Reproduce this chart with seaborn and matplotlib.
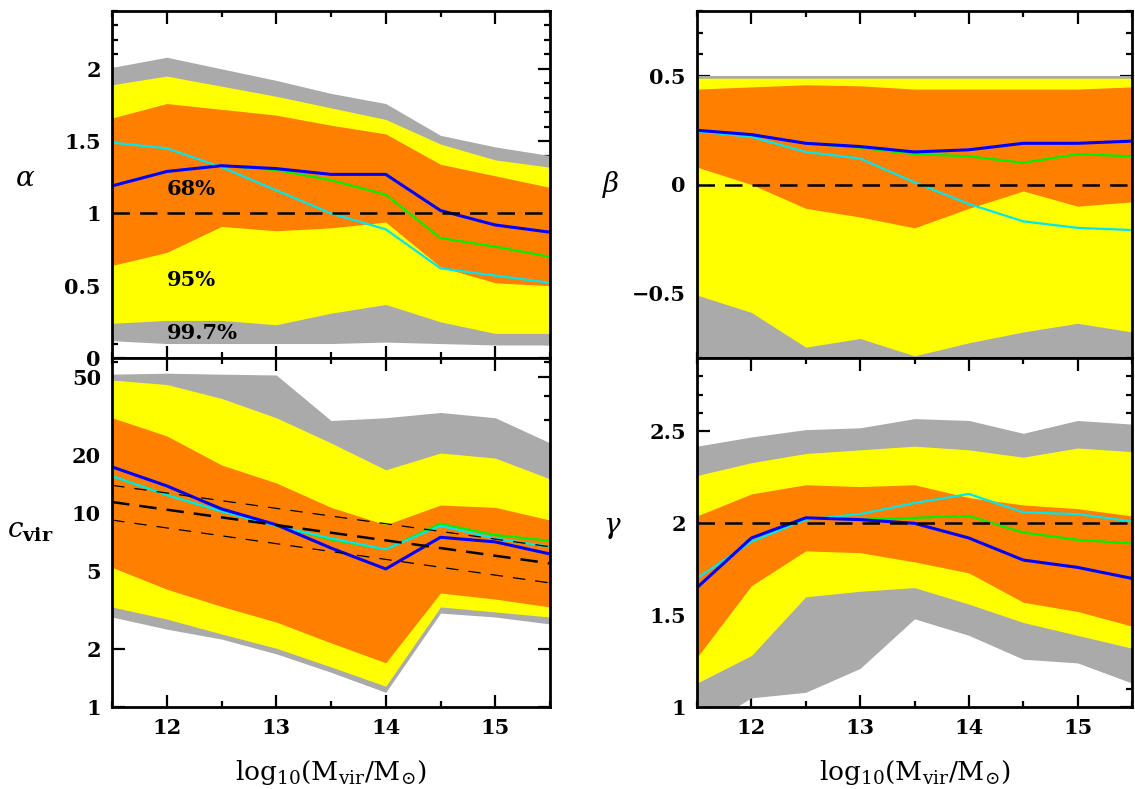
import matplotlib
matplotlib.use('Agg')
import matplotlib.pyplot as plt
import seaborn as sns
from matplotlib.ticker import MultipleLocator, FixedLocator, LogLocator, NullFormatter, FixedFormatter

sns.set_style('ticks')
plt.rcParams['font.family'] = ['DejaVu Serif']
plt.rcParams['mathtext.fontset'] = 'dejavuserif'
plt.rcParams.update({'text.color': 'black', 'axes.labelcolor': 'black', 'xtick.color': 'black',
                     'ytick.color': 'black', 'axes.edgecolor': 'black'})

# halo mass bins
logm = [11.5, 12, 12.5, 13, 13.5, 14, 14.5, 15, 15.5]

# alpha: 99.7% / 95% / 68% bands (lo, hi) and three median curves
alpha_lo3 = [0.12, 0.10, 0.10, 0.10, 0.10, 0.11, 0.10, 0.09, 0.09]
alpha_hi3 = [2.01, 2.08, 2.00, 1.92, 1.83, 1.76, 1.54, 1.46, 1.40]
alpha_lo2 = [0.24, 0.26, 0.26, 0.23, 0.31, 0.37, 0.25, 0.17, 0.17]
alpha_hi2 = [1.89, 1.95, 1.88, 1.81, 1.73, 1.65, 1.48, 1.37, 1.32]
alpha_lo1 = [0.64, 0.73, 0.91, 0.88, 0.90, 0.94, 0.63, 0.52, 0.50]
alpha_hi1 = [1.66, 1.76, 1.72, 1.68, 1.61, 1.55, 1.34, 1.26, 1.18]
alpha_blue = [1.19, 1.29, 1.33, 1.31, 1.27, 1.27, 1.02, 0.92, 0.87]
alpha_green = [1.19, 1.29, 1.33, 1.30, 1.23, 1.13, 0.83, 0.77, 0.70]
alpha_cyan = [1.49, 1.45, 1.32, 1.16, 1.00, 0.89, 0.62, 0.57, 0.52]

# beta
beta_lo3 = [-0.9, -0.9, -0.9, -0.9, -0.9, -0.9, -0.9, -0.9, -0.9]
beta_hi3 = [0.50, 0.50, 0.50, 0.50, 0.50, 0.50, 0.50, 0.50, 0.50]
beta_lo2 = [-0.51, -0.59, -0.75, -0.71, -0.79, -0.73, -0.68, -0.64, -0.68]
beta_hi2 = [0.49, 0.49, 0.49, 0.49, 0.49, 0.49, 0.49, 0.49, 0.49]
beta_lo1 = [0.08, 0.00, -0.11, -0.15, -0.20, -0.11, -0.03, -0.10, -0.08]
beta_hi1 = [0.44, 0.45, 0.46, 0.455, 0.44, 0.44, 0.44, 0.44, 0.45]
beta_blue = [0.25, 0.23, 0.19, 0.175, 0.15, 0.16, 0.19, 0.19, 0.20]
beta_green = [0.25, 0.23, 0.19, 0.17, 0.14, 0.13, 0.10, 0.14, 0.13]
beta_cyan = [0.245, 0.22, 0.15, 0.12, 0.01, -0.09, -0.17, -0.20, -0.21]

# concentration
cvir_lo3 = [2.91, 2.52, 2.24, 1.88, 1.51, 1.19, 3.05, 2.91, 2.68]
cvir_hi3 = [52, 52.6, 52, 51.5, 30, 31, 33, 31, 23]
cvir_lo2 = [3.28, 2.84, 2.38, 2.01, 1.61, 1.28, 3.28, 3.09, 2.91]
cvir_hi2 = [48.5, 46, 39, 31, 23, 16.7, 20.4, 19.2, 15]
cvir_lo1 = [5.25, 4.05, 3.3, 2.74, 2.14, 1.69, 3.87, 3.6, 3.28]
cvir_hi1 = [31, 25, 17.7, 14.3, 10.7, 8.7, 11, 10.7, 9.2]
cvir_blue = [17.3, 13.8, 10.5, 8.7, 6.6, 5.15, 7.5, 7.1, 6.15]
cvir_green = [15.5, 12.4, 10.2, 8.6, 7.3, 6.5, 8.8, 7.7, 7.2]
cvir_cyan = [15.5, 12.4, 10.2, 8.6, 7.4, 6.5, 8.6, 7.4, 6.7]
# c-M relation and its scatter
fit_x = [11.5, 15.5]
cvir_fit = [11.4, 5.5]
cvir_fit_hi = [13.9, 6.7]
cvir_fit_lo = [9.2, 4.36]

# gamma
gamma_lo3 = [0.87, 1.05, 1.08, 1.21, 1.48, 1.39, 1.26, 1.24, 1.13]
gamma_hi3 = [2.42, 2.47, 2.51, 2.52, 2.57, 2.56, 2.49, 2.56, 2.54]
gamma_lo2 = [1.13, 1.28, 1.60, 1.63, 1.65, 1.56, 1.46, 1.39, 1.32]
gamma_hi2 = [2.26, 2.33, 2.38, 2.40, 2.42, 2.40, 2.36, 2.41, 2.39]
gamma_lo1 = [1.27, 1.66, 1.85, 1.84, 1.79, 1.73, 1.57, 1.52, 1.44]
gamma_hi1 = [2.04, 2.16, 2.21, 2.20, 2.21, 2.14, 2.10, 2.08, 2.04]
gamma_blue = [1.65, 1.92, 2.03, 2.02, 2.00, 1.92, 1.80, 1.76, 1.70]
gamma_green = [1.65, 1.92, 2.03, 2.02, 2.03, 2.04, 1.95, 1.91, 1.89]
gamma_cyan = [1.70, 1.90, 2.02, 2.05, 2.11, 2.16, 2.06, 2.05, 2.01]

band_labels = ['68%', '95%', '99.7%']
band_label_y = [1.17, 0.54, 0.17]

GRAY, YELLOW, ORANGE = '#aaaaaa', '#ffff00', '#ff8000'

fig = plt.figure(figsize=(11.35, 7.89), dpi=100)
W, H = 1135, 789
ax_a = fig.add_axes([112 / W, 431 / H, 438 / W, 347 / H])
ax_c = fig.add_axes([112 / W, 82 / H, 438 / W, 349 / H])
ax_b = fig.add_axes([697 / W, 431 / H, 435 / W, 347 / H])
ax_g = fig.add_axes([697 / W, 82 / H, 435 / W, 349 / H])


def draw_panel(ax, lo3, hi3, lo2, hi2, lo1, hi1, green, cyan, blue):
    ax.fill_between(logm, lo3, hi3, color=GRAY, lw=0)
    ax.fill_between(logm, lo2, hi2, color=YELLOW, lw=0)
    ax.fill_between(logm, lo1, hi1, color=ORANGE, lw=0)
    sns.lineplot(x=logm, y=green, color='#00ee00', lw=1.6, ax=ax, legend=False)
    sns.lineplot(x=logm, y=cyan, color='#00e5ee', lw=1.6, ax=ax, legend=False)
    sns.lineplot(x=logm, y=blue, color='#0000ff', lw=2.2, ax=ax, legend=False)


draw_panel(ax_a, alpha_lo3, alpha_hi3, alpha_lo2, alpha_hi2, alpha_lo1, alpha_hi1,
           alpha_green, alpha_cyan, alpha_blue)
draw_panel(ax_b, beta_lo3, beta_hi3, beta_lo2, beta_hi2, beta_lo1, beta_hi1,
           beta_green, beta_cyan, beta_blue)
draw_panel(ax_c, cvir_lo3, cvir_hi3, cvir_lo2, cvir_hi2, cvir_lo1, cvir_hi1,
           cvir_green, cvir_cyan, cvir_blue)
draw_panel(ax_g, gamma_lo3, gamma_hi3, gamma_lo2, gamma_hi2, gamma_lo1, gamma_hi1,
           gamma_green, gamma_cyan, gamma_blue)

# reference lines
ax_a.axhline(1, color='black', lw=1.8, dashes=(7, 4))
ax_b.axhline(0, color='black', lw=1.8, dashes=(7, 4))
ax_g.axhline(2, color='black', lw=1.8, dashes=(7, 4))
ax_c.plot(fit_x, cvir_fit, color='black', lw=1.8, dashes=(7, 4))
ax_c.plot(fit_x, cvir_fit_hi, color='black', lw=0.9, dashes=(10, 8))
ax_c.plot(fit_x, cvir_fit_lo, color='black', lw=0.9, dashes=(10, 8))

for lab, yy in zip(band_labels, band_label_y):
    ax_a.text(12.0, yy, lab, fontsize=15, fontweight='bold', va='center', ha='left')

# axes ranges and ticks
ax_a.set_ylim(0, 2.4)
ax_a.yaxis.set_major_locator(MultipleLocator(0.5))
ax_a.yaxis.set_minor_locator(MultipleLocator(0.1))
ax_a.yaxis.set_major_formatter(plt.FuncFormatter(lambda v, p: '%g' % v))

ax_b.set_ylim(-0.8, 0.8)
ax_b.yaxis.set_major_locator(FixedLocator([-0.5, 0, 0.5]))
ax_b.yaxis.set_minor_locator(MultipleLocator(0.1))
ax_b.yaxis.set_major_formatter(plt.FuncFormatter(lambda v, p: ('%g' % v).replace('-', '\u2212')))

ax_g.set_ylim(1, 2.9)
ax_g.yaxis.set_major_locator(MultipleLocator(0.5))
ax_g.yaxis.set_minor_locator(MultipleLocator(0.1))
ax_g.yaxis.set_major_formatter(plt.FuncFormatter(lambda v, p: '%g' % v))

ax_c.set_yscale('log')
ax_c.set_ylim(1, 63)
cticks = [1, 2, 5, 10, 20, 50]
ax_c.yaxis.set_major_locator(FixedLocator(cticks))
ax_c.yaxis.set_major_formatter(FixedFormatter([str(t) for t in cticks]))
ax_c.yaxis.set_minor_locator(LogLocator(base=10, subs=range(1, 10)))
ax_c.yaxis.set_minor_formatter(NullFormatter())

for ax in (ax_a, ax_b, ax_c, ax_g):
    ax.set_xlim(11.5, 15.5)
    ax.xaxis.set_major_locator(MultipleLocator(1))
    ax.xaxis.set_minor_locator(MultipleLocator(0.5))
    ax.tick_params(which='both', direction='in', top=True, right=True, width=1.6,
                   labelsize=15, colors='black')
    ax.tick_params(which='major', length=9, pad=8)
    ax.tick_params(which='minor', length=4.5)
    for sp in ax.spines.values():
        sp.set_linewidth(2)
        sp.set_color('black')
        sp.set_zorder(5)
    ax.set_xlabel('')
    ax.set_ylabel('')

for ax in (ax_a, ax_b):
    ax.tick_params(labelbottom=False)

for ax in (ax_c, ax_g):
    ax.set_xlabel(r'$\mathrm{log_{10}(M_{vir}/M_{\odot})}$', fontsize=19, labelpad=14)

ax_a.text(-0.198, 0.516, r'$\alpha$', transform=ax_a.transAxes, fontsize=20,
          ha='center', va='center')
ax_b.text(-0.199, 0.50, r'$\beta$', transform=ax_b.transAxes, fontsize=20,
          ha='center', va='center')
ax_c.text(-0.187, 0.507, r'$c_{\mathbf{vir}}$', transform=ax_c.transAxes, fontsize=20,
          ha='center', va='center')
ax_g.text(-0.195, 0.513, r'$\gamma$', transform=ax_g.transAxes, fontsize=20,
          ha='center', va='center')

# bold tick labels
for ax in (ax_a, ax_b, ax_c, ax_g):
    plt.setp(ax.get_xticklabels() + ax.get_yticklabels(), fontweight='bold')

fig.savefig('out.png', dpi=100)
